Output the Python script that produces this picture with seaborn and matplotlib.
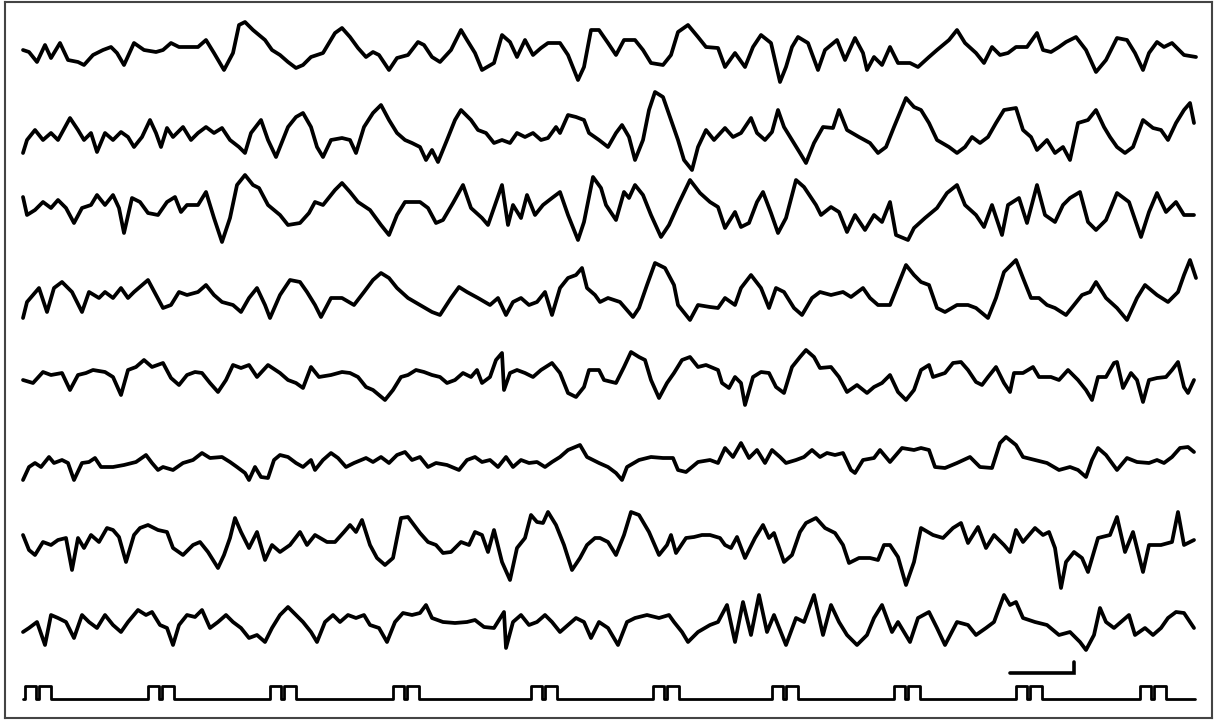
import numpy as np
import pandas as pd
import matplotlib
matplotlib.use("Agg")
import matplotlib.pyplot as plt
import seaborn as sns

# EEG channels: time (px along the sheet) and deflection (px, up = +)
t_ch1 = [23, 29, 37, 45, 51, 60, 68, 78, 84, 93, 103, 111, 117, 124, 134, 144, 156, 163, 171, 179,
         191, 198, 206, 214, 224, 233, 239, 245, 253, 265, 272, 280, 288, 296, 303, 311, 323, 335, 342, 350,
         358, 366, 373, 379, 389, 397, 408, 418, 424, 432, 440, 451, 461, 467, 475, 482, 494, 502, 510, 517,
         525, 533, 541, 548, 560, 568, 578, 584, 591, 599,
         608, 616, 624, 635, 643, 651, 663, 671, 678, 688, 698, 706, 718, 725, 735, 745, 753, 761, 771, 780,
         786, 792, 798, 808, 818, 825, 837, 845, 855, 863, 867, 874, 882, 890, 898, 910, 918, 929, 937, 949,
         957, 965, 976, 984, 992, 1000, 1008, 1016, 1027, 1037, 1043, 1051, 1059, 1066, 1076, 1086, 1096, 1106, 1117, 1127,
         1135, 1143, 1149, 1157, 1164, 1172, 1184, 1196]
amp_ch1 = [0, -2, -12, 5, -8, 7, -10, -12, -15, -5, 0, 3, -3, -15, 7, 0, -2, 0, 7, 3,
           3, 3, 10, -3, -20, -3, 25, 28, 20, 10, 0, -5, -12, -18, -15, -7, -3, 17, 22, 13,
           2, -7, -2, -5, -20, -8, -5, 8, 5, -7, -12, 0, 20, 10, -3, -20, -13, 15, 8, -7,
           10, -5, 2, 7, 7, -5, -30, -17, 20, 20,
           7, -5, 10, 10, 0, -13, -15, -5, 18, 25, 13, 3, 2, -17, -3, -17, 3, 15, 7, -32,
           -17, 3, 13, 7, -20, 0, 10, -10, 12, -3, -20, -7, -15, 3, -13, -13, -17, -7, 0, 10,
           20, 7, -3, -13, 3, -5, -3, 3, 3, 17, 0, -2, 3, 8, 13, 0, -22, -10, 12, 10,
           -3, -20, -3, 8, 3, 7, -5, -7]

t_ch2 = [23, 27, 35, 43, 51, 58, 70, 78, 84, 91, 97, 105, 113, 121, 128, 134, 142, 150, 156, 161,
         167, 173, 183, 191, 198, 206, 214, 222, 230, 239, 245, 251, 261, 268, 276, 288, 296, 303, 311, 317,
         323, 331, 342, 350, 356, 364, 373, 381, 389, 397, 405, 412, 420, 426, 432, 438, 447, 455, 461, 471,
         478, 486, 494, 502, 510, 517, 525, 533, 541, 548, 556, 560, 568, 576, 584, 589, 599,
         608, 616, 622, 629, 635, 643, 649, 655, 663, 671, 678, 684, 692, 698, 706, 714, 725, 733, 741, 751,
         757, 765, 772, 778, 784, 792, 800, 806, 814, 823, 833, 839, 847, 859, 870, 878, 886, 894, 906, 914,
         921, 929, 937, 949, 957, 965, 972, 980, 988, 996, 1004, 1016, 1023, 1031, 1037, 1047, 1055, 1063, 1070, 1078,
         1088, 1096, 1104, 1110, 1117, 1125, 1133, 1143, 1153, 1161, 1168, 1176, 1184, 1190, 1194]
amp_ch2 = [-18, -5, 5, -5, 2, -5, 17, 5, -5, 2, -17, 2, -5, 3, -2, -12, -2, 15, 2, -12,
           7, -2, 8, -5, 2, 8, 2, 7, -5, -12, -18, 2, 15, -5, -22, 8, 18, 22, 8, -12,
           -22, -5, -3, -5, -18, 8, 22, 30, 15, 2, -5, -8, -12, -25, -15, -27, -5, 15, 25, 15,
           5, 2, -8, -5, -8, 2, -2, 2, -5, -3, 8, 2, 20, 18, 15, 2, -5,
           -12, 2, 10, -2, -25, -5, 25, 43, 38, 15, -5, -25, -35, -12, 5, -5, 7, -2, 2, 17,
           2, -5, 3, 25, 8, -5, -18, -28, -8, 8, 7, 25, 5, -2, -8, -18, -12, 8, 37, 28,
           25, 12, -5, -12, -18, -12, -2, -8, -2, 12, 25, 27, 5, -2, -15, -5, -18, -12, -25, 12,
           15, 25, 8, -2, -12, -18, -12, 15, 7, 5, -5, 12, 25, 32, 12]

t_ch3 = [23, 27, 35, 43, 51, 58, 66, 74, 82, 91, 97, 105, 113, 119, 124, 132, 140, 148, 158, 167,
         175, 181, 187, 198, 206, 214, 222, 230, 237, 245, 253, 259, 268, 280, 288, 300, 309, 315, 323, 335,
         342, 350, 358, 370, 381, 389, 397, 405, 420, 428, 436, 443, 453, 463, 471, 482, 488, 494, 502, 508,
         513, 521, 527, 535, 543, 552, 560, 568, 578, 584, 593, 601,
         606, 616, 624, 629, 635, 643, 651, 661, 669, 678, 690, 700, 710, 718, 725, 735, 741, 749, 757, 763,
         771, 778, 786, 796, 804, 816, 821, 831, 839, 847, 855, 865, 874, 882, 890, 896, 908, 914, 925, 937,
         947, 957, 965, 976, 984, 992, 1002, 1008, 1019, 1027, 1037, 1045, 1055, 1063, 1070, 1080, 1088, 1096, 1106, 1117,
         1129, 1141, 1149, 1157, 1166, 1176, 1184, 1194]
amp_ch3 = [13, -5, 0, 8, 2, 10, 2, -13, 2, 5, 15, 5, 15, 2, -23, 12, 8, -3, -5, 8,
           13, -2, 5, 5, 18, -8, -32, -8, 25, 35, 25, 22, 5, -5, -15, -13, -3, 8, 5, 20,
           27, 18, 8, 0, -15, -25, -5, 8, 8, 2, -13, -10, 7, 25, 2, -8, -15, 2, 25, -15,
           5, -8, 15, -5, 5, 12, 18, -5, -30, -12, 33, 22,
           5, -10, 18, 12, 25, 15, -5, -27, -15, 5, 30, 17, 8, 3, -18, -2, -17, -13, 8, 18,
           -3, -23, -8, 30, 23, 5, -5, 3, -2, -22, -5, -20, -5, -12, 8, -25, -30, -18, -8, 2,
           17, 25, 5, -5, -17, 5, -25, 5, 12, -13, 25, -5, -12, 5, 12, 18, -12, -20, -10, 17,
           8, -27, -2, 17, -2, 8, -5, -5]

t_ch4 = [23, 27, 39, 47, 54, 62, 72, 82, 89, 99, 105, 113, 121, 128, 134, 148, 156, 163, 171, 179,
         187, 198, 206, 214, 222, 233, 241, 249, 257, 265, 270, 280, 290, 300, 307, 315, 321, 331, 342, 354,
         364, 373, 381, 389, 397, 408, 420, 432, 440, 451, 459, 467, 478, 490, 498, 506, 513, 521, 529, 537,
         545, 552, 560, 568, 576, 582, 587, 595,
         600, 608, 620, 633, 639, 647, 655, 665, 674, 678, 690, 698, 710, 718, 725, 735, 741, 751, 761, 769,
         776, 784, 794, 802, 812, 820, 831, 843, 851, 863, 870, 878, 890, 898, 906, 914, 921, 929, 937, 945,
         957, 968, 976, 988, 996, 1004, 1016, 1023, 1031, 1039, 1047, 1055, 1066, 1074, 1082, 1090, 1096, 1106, 1117, 1127,
         1137, 1145, 1157, 1168, 1178, 1184, 1190, 1196]
amp_ch4 = [-23, -7, 7, -17, 7, 13, 3, -17, 3, -3, 3, -3, 7, -3, 3, 15, 0, -13, -10, 3,
           0, 3, 10, 0, -7, -10, -17, -3, 7, -10, -23, 0, 15, 13, 3, -10, -22, -3, -3, -10,
           3, 15, 22, 17, 7, -3, -10, -17, -20, -3, 8, 3, -3, -10, -3, -20, -7, -3, -10, -7,
           3, -20, 7, 17, 20, 27, 7, 0,
           -7, -3, -7, -22, -13, 10, 32, 27, 10, -10, -25, -10, -12, -13, -3, -10, 7, 20, 7, -13,
           7, 3, -13, -20, -3, 3, 0, 3, -2, 7, -3, -10, -10, 10, 30, 20, 13, 10, -13, -17,
           -10, -10, -13, -23, -3, 23, 35, 17, -3, -3, -10, -13, -20, -10, 0, 3, 13, -3, -13, -25,
           -3, 10, 0, -7, 3, 20, 35, 17]

t_ch5 = [23, 33, 43, 51, 62, 70, 78, 86, 93, 105, 113, 121, 128, 136, 144, 152, 163, 171, 179, 187,
         195, 202, 210, 218, 226, 233, 241, 249, 257, 268, 280, 288, 296, 303, 311, 319, 331, 342, 350, 358,
         366, 373, 385, 393, 401, 408, 416, 424, 432, 440, 447, 455, 463, 471, 477, 482, 490, 496, 502, 504,
         510, 517, 525, 533, 541, 552, 560, 568, 576, 584, 589, 599,
         604, 616, 624, 631, 639, 645, 651, 659, 667, 674, 682, 690, 698, 706, 718, 722, 729, 735, 741, 745,
         753, 761, 769, 776, 784, 792, 800, 806, 814, 820, 831, 839, 847, 857, 867, 874, 882, 890, 898, 906,
         914, 921, 929, 933, 945, 953, 961, 968, 976, 982, 988, 996, 1004, 1010, 1014, 1023, 1033, 1039, 1051, 1059,
         1068, 1078, 1086, 1092, 1098, 1106, 1114, 1117, 1123, 1131, 1137, 1143, 1149, 1157, 1166, 1172, 1178, 1184, 1188, 1194]
amp_ch5 = [-2, -5, 6, 3, 5, -12, 3, 5, 8, 6, 1, -17, 8, 11, 18, 11, 15, 0, -7, 3,
           6, 5, -5, -14, -2, 13, 10, 13, 1, 13, 5, -2, -5, -10, 11, 1, 3, 6, 5, 1,
           -9, -12, -22, -12, 1, 3, 8, 6, 3, 1, -5, -2, 5, 1, 8, -5, 1, 18, 25, -12,
           5, 8, 5, 1, 8, 15, 5, -15, -19, -9, 8, 8,
           -2, -5, 11, 26, 21, 18, -2, -20, -5, 5, 18, 21, 11, 13, 8, -5, -10, 1, -5, -27,
           1, 6, 5, -9, -15, 11, 21, 28, 21, 10, 11, 1, -14, -7, -15, -9, -5, 3, -14, -22,
           -12, 8, 13, 1, 5, 15, 16, 8, -4, -7, 1, 11, -5, -14, 5, 5, 11, 1, 1, -2,
           8, -2, -12, -22, 1, 1, 15, 16, -10, 5, -2, -24, -2, 0, 1, 8, 16, -9, -15, -2]

t_ch6 = [23, 29, 35, 41, 49, 54, 62, 68, 74, 82, 89, 95, 101, 113, 124, 136, 146, 152, 158, 163,
         173, 183, 193, 202, 210, 222, 230, 237, 245, 249, 255, 261, 268, 274, 280, 288, 296, 303, 311, 315,
         323, 331, 338, 346, 354, 366, 373, 381, 389, 397, 405, 412, 420, 428, 436, 447, 459, 467, 475, 482,
         490, 498, 506, 513, 521, 529, 537, 545, 552, 560, 568, 580, 587, 599,
         608, 616, 622, 627, 639, 651, 663, 673, 678, 686, 698, 710, 718, 725, 733, 741, 749, 757, 765, 772,
         780, 786, 796, 804, 812, 820, 827, 835, 843, 851, 855, 863, 874, 880, 890, 902, 914, 921, 929, 935,
         945, 957, 970, 980, 992, 1000, 1006, 1016, 1023, 1035, 1047, 1059, 1070, 1078, 1086, 1092, 1098, 1106, 1117, 1127,
         1137, 1149, 1157, 1164, 1172, 1180, 1188, 1194]
amp_ch6 = [-18, -5, -1, -5, 5, -1, 2, -1, -18, -1, 0, 4, -5, -5, -3, 0, 7, -1, -8, -5,
           -8, -1, 2, 9, 4, 5, 0, -5, -11, -18, -5, -15, -16, 2, 7, 5, -1, -5, 2, -8,
           2, 9, 4, -5, -1, 4, 0, 5, -1, 7, 10, 2, 5, -5, -1, -3, -8, 2, 5, 0,
           2, -5, 5, -5, 2, -1, 0, -5, 0, 5, 12, 17, 5, -1,
           -5, -11, -18, -5, 2, 5, 4, 4, -8, -10, 0, 2, -1, 14, 5, 19, 4, 12, -1, 12,
           5, -1, 2, 5, 12, 5, 9, 7, 9, -8, -11, 2, 4, 12, 0, 14, 12, 14, 12, -5,
           -6, -1, 5, -5, -6, 19, 25, 17, 5, 2, -1, -8, -5, -8, -15, 2, 14, 7, -8, 4,
           0, -1, 2, -1, 5, 14, 15, 10]

t_ch7 = [23, 29, 35, 43, 51, 58, 66, 72, 78, 84, 91, 99, 107, 113, 119, 126, 134, 140, 148, 158,
         167, 173, 183, 193, 200, 208, 218, 224, 230, 235, 241, 249, 257, 265, 272, 280, 290, 300, 307, 315,
         327, 335, 344, 350, 356, 362, 370, 377, 385, 393, 401, 408, 414, 420, 428, 436, 443, 451, 461, 469,
         475, 482, 488, 494, 502, 510, 517, 525, 531, 537, 543, 548, 556, 564, 572, 580, 587, 595,
         600, 608, 616, 624, 631, 639, 649, 659, 667, 671, 676, 686, 694, 702, 710, 720, 725, 731, 737, 745,
         755, 763, 769, 774, 784, 792, 800, 806, 816, 825, 835, 843, 849, 859, 870, 878, 884, 890, 898, 906,
         914, 921, 933, 943, 953, 961, 968, 978, 986, 994, 1004, 1010, 1016, 1023, 1035, 1043, 1049, 1055, 1061, 1066,
         1074, 1082, 1088, 1098, 1110, 1117, 1125, 1133, 1143, 1149, 1161, 1172, 1178, 1184, 1194]
amp_ch7 = [8, -7, -12, 1, -2, 3, 5, -27, 5, -5, 8, 1, 15, 13, 6, -19, 8, 15, 18, 13,
           11, -5, -12, -2, 1, -9, -25, -12, 5, 25, 11, -5, 11, -17, -2, -9, -2, 11, -2, 8,
           1, 1, 11, 18, 11, 23, -2, -15, -22, -15, 25, 26, 18, 10, 1, -2, -10, -9, 1, -2,
           11, 8, -9, 13, -19, -37, -5, 5, 28, 21, 20, 31, 18, -2, -27, -15, -2, 5,
           5, 1, -12, 8, 31, 28, 11, -12, -2, 8, -10, 5, 6, 8, 8, 5, -2, -5, 6, -15,
           5, 18, 5, 10, -19, -12, 11, 20, 25, 15, 10, -2, -20, -15, -15, -17, -2, -2, -14, -42,
           -19, 15, 8, 5, 15, 20, 0, 16, -5, 8, -2, -9, 13, 1, 15, 8, 11, -5, -45, -19,
           -9, -15, -29, 5, 8, 26, -9, 11, -29, -2, -2, 1, 31, -2, 3]

t_ch8 = [23, 29, 37, 45, 51, 58, 66, 74, 82, 89, 97, 105, 113, 121, 128, 138, 146, 152, 160, 167,
         173, 179, 187, 195, 202, 210, 218, 226, 233, 241, 249, 257, 265, 272, 280, 288, 296, 303, 311, 317,
         325, 333, 340, 348, 356, 364, 370, 379, 387, 395, 403, 412, 420, 426, 432, 443, 455, 467, 475, 484,
         494, 504, 506, 513, 521, 529, 537, 545, 552, 560, 568, 576, 584, 591, 599,
         608, 618, 627, 635, 647, 659, 669, 674, 682, 688, 698, 710, 718, 727, 735, 743, 751, 759, 767, 774,
         786, 796, 804, 814, 823, 831, 839, 847, 857, 867, 874, 882, 892, 898, 910, 918, 929, 937, 945, 957,
         968, 976, 986, 994, 1004, 1010, 1016, 1023, 1035, 1047, 1059, 1070, 1080, 1086, 1094, 1100, 1106, 1114, 1121, 1129,
         1135, 1145, 1153, 1161, 1168, 1176, 1184, 1190, 1194]
amp_ch8 = [-2, 2, 8, -15, 15, 12, 8, -8, 15, 8, 2, 15, 5, -2, 8, 20, 15, 18, 5, 2,
           -15, 5, 15, 13, 20, 2, 8, 15, 8, 2, -8, -5, -12, 2, 15, 23, 15, 8, -2, -12,
           8, 15, 8, 15, 12, 15, 5, 2, -12, 8, 17, 15, 17, 25, 12, 8, 7, 8, 10, 3,
           2, 18, -18, 8, 15, 5, 8, 15, 8, -2, 5, 12, 8, -8, 8,
           2, -15, 8, 12, 15, 12, 15, 8, -2, -12, -2, 5, 8, 25, -12, 28, -5, 35, -2, 15,
           -15, 12, 8, 35, -5, 25, 8, -5, -15, -5, 12, 25, -2, 8, -12, 12, 18, 2, -15, 8,
           5, -5, 2, 8, 35, 25, 28, 12, 8, 5, -5, -2, -12, -20, -5, 22, 8, 2, 8, 15,
           -5, 2, -5, 2, 12, 18, 17, 8, 2]

# stimulus marker: onset of each double pulse
marker_onsets = [25, 148, 270, 393, 531, 653, 772, 894, 1016, 1140]
marker_start, marker_end = 23, 1195

channels = [(t_ch1, amp_ch1), (t_ch2, amp_ch2), (t_ch3, amp_ch3), (t_ch4, amp_ch4),
            (t_ch5, amp_ch5), (t_ch6, amp_ch6), (t_ch7, amp_ch7), (t_ch8, amp_ch8)]

# layout: vertical baseline of each row on the sheet (px from top)
baselines = [50, 135, 210, 295, 378, 462, 543, 630]
marker_base = 699
pulse_h = 13

W, H = 1215, 720
sns.set_style("white")
fig = plt.figure(figsize=(W / 100, H / 100), dpi=100)
ax = fig.add_axes([5 / W, 2 / H, 1207 / W, 716 / H])

rows = []
for i, (t, a) in enumerate(channels):
    assert len(t) == len(a), i
    df = pd.DataFrame({"t": t, "amp": a})
    df["y"] = -baselines[i] + df["amp"]
    df["channel"] = f"ch{i + 1}"
    rows.append(df)
eeg = pd.concat(rows, ignore_index=True)

for ch, df in eeg.groupby("channel"):
    sns.lineplot(data=df, x="t", y="y", ax=ax, color="black", lw=2.7,
                 estimator=None, sort=False)

# build the double-pulse marker trace
mt, mv = [marker_start], [0]
for on in marker_onsets:
    for a, b in [(0, 11), (14, 26)]:
        mt += [on + a, on + a, on + b, on + b]
        mv += [0, pulse_h, pulse_h, 0]
mt.append(marker_end)
mv.append(0)
marker = pd.DataFrame({"t": mt, "y": -marker_base + np.array(mv)})
sns.lineplot(data=marker, x="t", y="y", ax=ax, color="black", lw=2.0,
             estimator=None, sort=False)

# calibration bar
ax.plot([1010, 1074, 1074], [-673, -673, -662], color="black", lw=2.6,
        solid_joinstyle="miter")

ax.set_xlim(5, 1212)
ax.set_ylim(-718, -2)
ax.set_xticks([])
ax.set_yticks([])
ax.set_xlabel("")
ax.set_ylabel("")
for s in ax.spines.values():
    s.set_visible(True)
    s.set_color("#444444")
    s.set_linewidth(1.5)

fig.savefig("out.png", dpi=100)
